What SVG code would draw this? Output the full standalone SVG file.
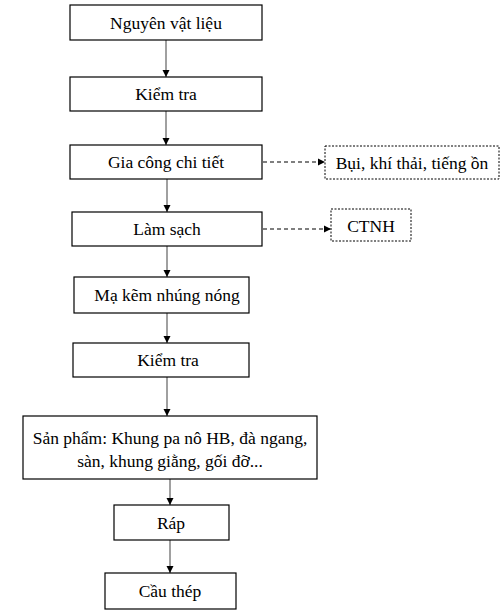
<svg xmlns="http://www.w3.org/2000/svg" width="504" height="614" viewBox="0 0 504 614">
<defs>
<style>
.box{fill:#fff;stroke:#000;stroke-width:1.2}
.dbox{fill:#fff;stroke:#000;stroke-width:1;stroke-dasharray:2 1.5}
.t{font-family:"Liberation Serif","Times New Roman",serif;font-size:17.5px;fill:#000;text-anchor:middle;dominant-baseline:central}
.c{stroke:#808080;stroke-width:1.5;fill:none}
.d{stroke:#000;stroke-width:1.2;fill:none;stroke-dasharray:4 3}
</style>
<marker id="ah" markerWidth="8" markerHeight="8" refX="7" refY="4" orient="auto" markerUnits="userSpaceOnUse">
<path d="M0,0.5 L7,4 L0,7.5 Z" fill="#000"/>
</marker>
</defs>
<rect width="504" height="614" fill="#fff"/>
<g id="connectors">
<line class="c" x1="166" y1="40" x2="166" y2="77" marker-end="url(#ah)"/>
<line class="c" x1="166" y1="111" x2="166" y2="145" marker-end="url(#ah)"/>
<line class="c" x1="167" y1="179" x2="167" y2="212" marker-end="url(#ah)"/>
<line class="c" x1="167" y1="246" x2="167" y2="277" marker-end="url(#ah)"/>
<line class="c" x1="167" y1="313" x2="167" y2="343" marker-end="url(#ah)"/>
<line class="c" x1="167" y1="377" x2="167" y2="416" marker-end="url(#ah)"/>
<line class="c" x1="170" y1="479" x2="170" y2="505" marker-end="url(#ah)"/>
<line class="c" x1="170" y1="540" x2="170" y2="573" marker-end="url(#ah)"/>
<line class="d" x1="263" y1="162" x2="325" y2="162" marker-end="url(#ah)"/>
<line class="d" x1="263" y1="229" x2="331" y2="229" marker-end="url(#ah)"/>
</g>
<g id="n1"><rect class="box" x="70" y="5" width="192" height="35"/><text class="t" x="166" y="22.5">Nguyên vật liệu</text></g>
<g id="n2"><rect class="box" x="70" y="77" width="192" height="34"/><text class="t" x="166" y="94">Kiểm tra</text></g>
<g id="n3"><rect class="box" x="70" y="145" width="192" height="34"/><text class="t" x="166" y="162">Gia công chi tiết</text></g>
<g id="n4"><rect class="box" x="72" y="212" width="190" height="34"/><text class="t" x="167" y="229">Làm sạch</text></g>
<g id="n5"><rect class="box" x="74" y="277" width="175" height="36"/><text class="t" x="167" y="295">Mạ kẽm nhúng nóng</text></g>
<g id="n6"><rect class="box" x="73" y="343" width="176" height="34"/><text class="t" x="168" y="360">Kiểm tra</text></g>
<g id="n7"><rect class="box" x="23" y="416" width="294" height="63"/><text class="t" x="170" y="438">Sản phẩm: Khung pa nô HB, đà ngang,</text><text class="t" x="170" y="461">sàn, khung giằng, gối đỡ...</text></g>
<g id="n8"><rect class="box" x="114" y="505" width="115" height="35"/><text class="t" x="171" y="522.5">Ráp</text></g>
<g id="n9"><rect class="box" x="105" y="573" width="131" height="36"/><text class="t" x="170" y="591">Cầu thép</text></g>
<g id="e1"><rect class="dbox" x="325" y="146" width="174" height="33"/><text class="t" x="412" y="162.5">Bụi, khí thải, tiếng ồn</text></g>
<g id="e2"><rect class="dbox" x="331" y="209" width="80" height="32"/><text class="t" x="371" y="225.5">CTNH</text></g>
</svg>
